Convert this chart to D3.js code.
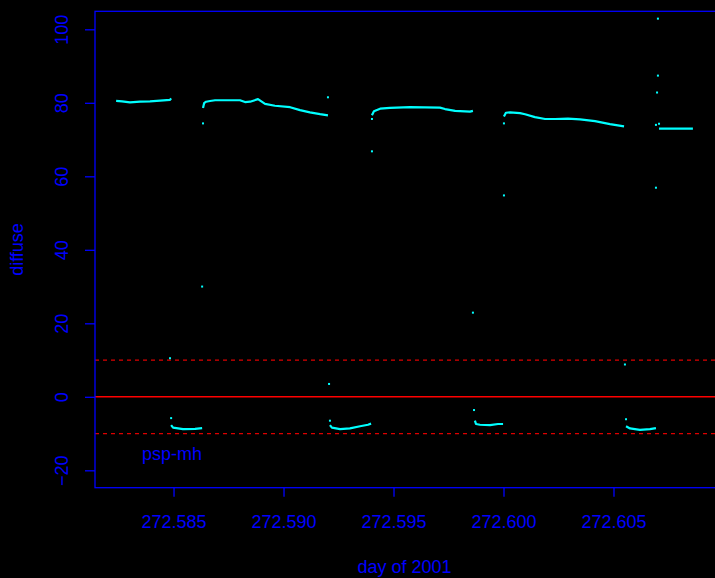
<!DOCTYPE html>
<html>
<head>
<meta charset="utf-8">
<script src="https://cdn.jsdelivr.net/npm/d3@7"></script>
<style>
  html, body { margin: 0; padding: 0; background: #000; }
  svg { display: block; }
  text { font-family: "Liberation Sans", Arial, Helvetica, sans-serif; }
</style>
</head>
<body>
<svg id="chart" width="715" height="578"></svg>
<script>
// ---- data (day of 2001, diffuse) ----
const upper1 = [[272.58239,80.5],[272.58266,80.4],[272.58302,80.1],[272.58348,80.3],[272.58393,80.4],[272.58439,80.6],[272.58484,80.8],[272.58489,81.2]];
const upper2 = [[272.58634,78.6],[272.58639,79.9],[272.58648,80.3],[272.58666,80.5],[272.58689,80.7],[272.58802,80.7],[272.58825,80.2],[272.58848,80.3],[272.58884,81.0],[272.58916,79.7],[272.58961,79.2],[272.59030,78.8],[272.59075,78.0],[272.59120,77.4],[272.59166,76.9],[272.59202,76.6]];
const upper3 = [[272.59402,76.6],[272.59411,77.7],[272.59439,78.4],[272.59484,78.6],[272.59575,78.8],[272.59711,78.7],[272.59734,78.3],[272.59780,77.8],[272.59848,77.6],[272.59861,77.8]];
const upper4 = [[272.60002,76.3],[272.60011,77.3],[272.60030,77.4],[272.60075,77.2],[272.60098,76.9],[272.60143,76.1],[272.60189,75.6],[272.60234,75.6],[272.60293,75.7],[272.60348,75.5],[272.60416,75.0],[272.60484,74.2],[272.60548,73.6]];
const upper5 = [[272.60707,73.0],[272.60861,73.0]];
const lower1 = [[272.58489,-7.7],[272.58498,-8.4],[272.58543,-8.8],[272.58598,-8.7],[272.58630,-8.5]];
const lower2 = [[272.59211,-7.7],[272.59220,-8.4],[272.59257,-8.8],[272.59302,-8.6],[272.59348,-8.0],[272.59384,-7.6],[272.59398,-7.3]];
const lower3 = [[272.59870,-6.5],[272.59875,-7.4],[272.59893,-7.6],[272.59939,-7.7],[272.59975,-7.4],[272.59998,-7.4]];
const lower4 = [[272.60557,-8.0],[272.60575,-8.6],[272.60620,-9.0],[272.60666,-8.8],[272.60693,-8.5]];
const outliers = [[272.58484,10.5],[272.58489,-5.8],[272.58634,74.4],[272.58630,30.0],[272.59202,81.5],[272.59207,3.5],[272.59211,-6.5],[272.59402,75.6],[272.59402,66.8],[272.59861,22.9],[272.59866,-3.6],[272.60002,74.4],[272.60002,54.8],[272.60552,8.8],[272.60557,-6.1],[272.60702,102.9],[272.60702,87.4],[272.60698,82.8],[272.60707,74.3],[272.60693,74.0],[272.60693,56.9]];
const segments = [upper1, upper2, upper3, upper4, upper5, lower1, lower2, lower3, lower4];
const xTicks = [272.585, 272.590, 272.595, 272.600, 272.605];
const yTicks = [-20, 0, 20, 40, 60, 80, 100];
const refSolid = [0];
const refDashed = [-10, 10];
const xDomain = [272.58143, 272.60966];
const yDomain = [-24.73, 104.9];
const xTitle = "day of 2001";
const yTitle = "diffuse";
const legendLabel = "psp-mh";

// ---- layout ----
const mLeft = 95, mRight = 716, mTop = 11.3, mBottom = 487.7;
const blue = "#0000ff", cyan = "#00ffff";
const svg = d3.select("#chart");
svg.append("rect").attr("width", 715).attr("height", 578).attr("fill", "#000");

const x = d3.scaleLinear().domain(xDomain).range([mLeft, mRight]);
const y = d3.scaleLinear().domain(yDomain).range([mBottom, mTop]);

// reference lines
svg.selectAll(".ref").data(refSolid).enter().append("line")
  .attr("x1", mLeft).attr("x2", mRight)
  .attr("y1", d => y(d)).attr("y2", d => y(d))
  .attr("stroke", "#ff0000").attr("stroke-width", 1.5);
svg.selectAll(".refd").data(refDashed).enter().append("line")
  .attr("x1", mLeft).attr("x2", mRight)
  .attr("y1", d => y(d)).attr("y2", d => y(d))
  .attr("stroke", "#dd0000").attr("stroke-width", 1.3)
  .attr("stroke-dasharray", "4,4");

// data lines
const line = d3.line().x(d => x(d[0])).y(d => y(d[1]));
svg.selectAll(".seg").data(segments).enter().append("path")
  .attr("d", line).attr("fill", "none")
  .attr("stroke", cyan).attr("stroke-width", 2.2)
  .attr("stroke-linejoin", "round");
svg.selectAll(".pt").data(outliers).enter().append("rect")
  .attr("x", d => x(d[0]) - 1).attr("y", d => y(d[1]) - 1)
  .attr("width", 2).attr("height", 2).attr("fill", cyan);

// axes
const xAxis = d3.axisBottom(x).tickValues(xTicks).tickSize(9).tickPadding(19)
  .tickFormat(d3.format(".3f"));
const gx = svg.append("g").attr("transform", `translate(0,${mBottom})`).call(xAxis);
gx.select(".domain").remove();
gx.selectAll("line").attr("stroke", blue).attr("stroke-width", 1.3);
gx.selectAll("text").attr("fill", blue).attr("font-size", 18)
  .attr("font-family", "'Liberation Sans', Arial, sans-serif");

const yAxis = d3.axisLeft(y).tickValues(yTicks).tickSize(10).tickFormat(d3.format("d"));
const gy = svg.append("g").attr("transform", `translate(${mLeft},0)`).call(yAxis);
gy.select(".domain").remove();
gy.selectAll("line").attr("stroke", blue).attr("stroke-width", 1.3);
gy.selectAll("text").attr("fill", blue).attr("font-size", 18)
  .attr("font-family", "'Liberation Sans', Arial, sans-serif")
  .attr("x", null).attr("dy", null)
  .attr("text-anchor", "middle")
  .attr("transform", "translate(-27,0) rotate(-90)");

// box
svg.append("rect").attr("x", mLeft).attr("y", mTop)
  .attr("width", mRight - mLeft).attr("height", mBottom - mTop)
  .attr("fill", "none").attr("stroke", blue).attr("stroke-width", 1.3);

// titles
svg.append("text").attr("x", 404.5).attr("y", 573)
  .attr("text-anchor", "middle").attr("fill", blue).attr("font-size", 18).text(xTitle);
svg.append("text").attr("transform", `translate(23,249.5) rotate(-90)`)
  .attr("text-anchor", "middle").attr("fill", blue).attr("font-size", 18).text(yTitle);
svg.append("text").attr("x", 142).attr("y", 460)
  .attr("fill", blue).attr("font-size", 18).text(legendLabel);
</script>
</body>
</html>
